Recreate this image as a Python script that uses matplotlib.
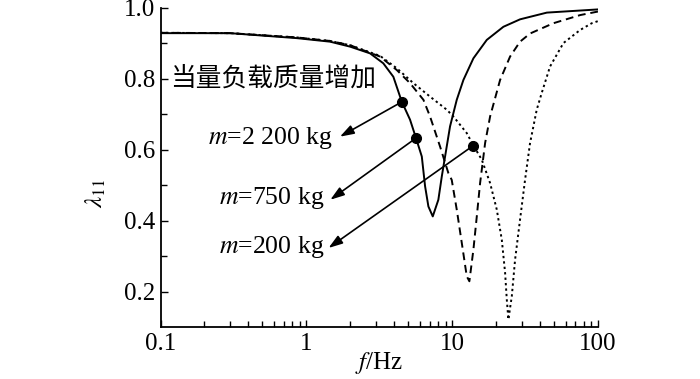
import matplotlib
matplotlib.use('Agg')
import matplotlib.pyplot as plt
from matplotlib.ticker import FixedLocator, NullFormatter, FixedFormatter

plt.rcParams['font.family'] = ['Liberation Serif', 'Noto Sans CJK SC', 'DejaVu Sans']
plt.rcParams['mathtext.fontset'] = 'stix'

# curve data (f in Hz, lambda_11)
f_2200 = [0.1, 0.300, 0.859, 1.454, 1.994, 2.735, 3.37, 3.95, 4.51, 5.14, 5.65, 6.19, 6.52, 6.87,
          7.36, 8.04, 8.49, 8.94, 9.67, 10.75, 11.94, 13.98, 17.27, 22.45, 29.2, 44.6, 100]
lam_2200 = [0.929, 0.929, 0.915, 0.905, 0.891, 0.872, 0.844, 0.806, 0.736, 0.685, 0.633, 0.581, 0.497, 0.440,
            0.412, 0.459, 0.525, 0.581, 0.666, 0.741, 0.797, 0.858, 0.910, 0.947, 0.968, 0.987, 0.996]

f_750 = [0.1, 0.300, 0.859, 1.454, 1.994, 3.20, 4.17, 5.14, 6.35, 7.05, 8.26, 9.42, 9.93, 10.75,
         11.64, 12.59, 13.12, 13.98, 14.75, 15.54, 16.82, 18.2, 21.31, 24.95, 29.2, 34.2, 49.4,
         75.4, 100]
lam_750 = [0.930, 0.929, 0.917, 0.907, 0.895, 0.863, 0.825, 0.788, 0.741, 0.694, 0.609, 0.534, 0.515, 0.431,
           0.337, 0.243, 0.229, 0.318, 0.412, 0.506, 0.619, 0.694, 0.797, 0.863, 0.905, 0.928, 0.957,
           0.980, 0.990]

f_200 = [0.1, 0.300, 0.859, 1.454, 1.994, 3.20, 4.17, 5.42, 7.05, 9.18, 10.19, 12.59, 13.98, 15.96,
         18.2, 20.23, 21.89, 23.06, 23.69, 24.29, 25.64, 27.0, 29.2, 31.6, 34.2, 38.0, 41.1, 46.9,
         57.9, 75.4, 90.6, 100]
lam_200 = [0.930, 0.929, 0.917, 0.907, 0.895, 0.865, 0.830, 0.788, 0.750, 0.713, 0.694, 0.647, 0.612, 0.572,
           0.506, 0.431, 0.346, 0.253, 0.177, 0.121, 0.187, 0.290, 0.403, 0.515, 0.619, 0.713, 0.760, 0.835,
           0.901, 0.938, 0.957, 0.963]

# marked points and annotation text
dot_f = [4.51, 5.65, 13.98]
dot_lam = [0.735, 0.633, 0.612]
head_f = [1.70, 1.46, 1.42]
head_lam = [0.637, 0.459, 0.323]
labels = ['$m$=2 200 kg', '$m$=750 kg', '$m$=200 kg']
label_f = [1.52, 1.32, 1.32]
label_lam = [0.633, 0.465, 0.327]

xticks = [0.1, 1, 10, 100]
xticklabels = ['0.1', '1', '10', '100']
yticks = [0.2, 0.4, 0.6, 0.8, 1.0]

fig = plt.figure(figsize=(7, 3.79), dpi=100)
ax = fig.add_axes([0.2293, 0.1372, 0.625, 0.8417])

ax.plot(f_2200, lam_2200, color='k', lw=1.4, ls='-')
ax.plot(f_750, lam_750, color='k', lw=1.4, ls=(0, (4, 2.5)))
ax.plot(f_200, lam_200, color='k', lw=1.4, ls=(0, (1.2, 1.6)))

ax.plot(dot_f, dot_lam, 'o', color='k', ms=7)
for i in range(3):
    ax.annotate('', xy=(head_f[i], head_lam[i]), xytext=(dot_f[i], dot_lam[i]),
                arrowprops=dict(arrowstyle='-|>,head_length=0.6,head_width=0.2', color='k',
                                lw=1.2, mutation_scale=14, shrinkA=0, shrinkB=0))
    ax.text(label_f[i], label_lam[i], labels[i], ha='right', va='center', fontsize=18.5)

ax.text(0.116, 0.80, '当量负载质量增加', ha='left', va='center', fontsize=18.5,
        family=['Noto Sans CJK SC', 'DejaVu Sans'])

ax.set_xscale('log')
ax.set_xlim(0.1, 100)
ax.set_ylim(0.1, 1.0)
ax.xaxis.set_major_locator(FixedLocator(xticks))
ax.xaxis.set_major_formatter(FixedFormatter(xticklabels))
ax.xaxis.set_minor_formatter(NullFormatter())
ax.yaxis.set_major_locator(FixedLocator(yticks))
ax.yaxis.set_minor_locator(FixedLocator([0.3, 0.5, 0.7, 0.9]))
ax.yaxis.set_major_formatter(FixedFormatter(['0.2', '0.4', '0.6', '0.8', '1.0']))

ax.spines['top'].set_visible(False)
ax.spines['right'].set_visible(False)
for s in ['left', 'bottom']:
    ax.spines[s].set_linewidth(1.3)
ax.tick_params(which='both', direction='in', width=1.0, labelsize=18)
ax.tick_params(which='major', length=5)
ax.tick_params(which='minor', length=4)
ax.tick_params(axis='y', pad=4)
ax.tick_params(axis='x', pad=4)

ax.set_xlabel('$f$/Hz', fontsize=18, labelpad=-3)
ax.set_ylabel(r'$\lambda_{11}$', fontsize=18)
ax.yaxis.set_label_coords(-0.12, 0.42)

fig.savefig('out.png', dpi=100)
